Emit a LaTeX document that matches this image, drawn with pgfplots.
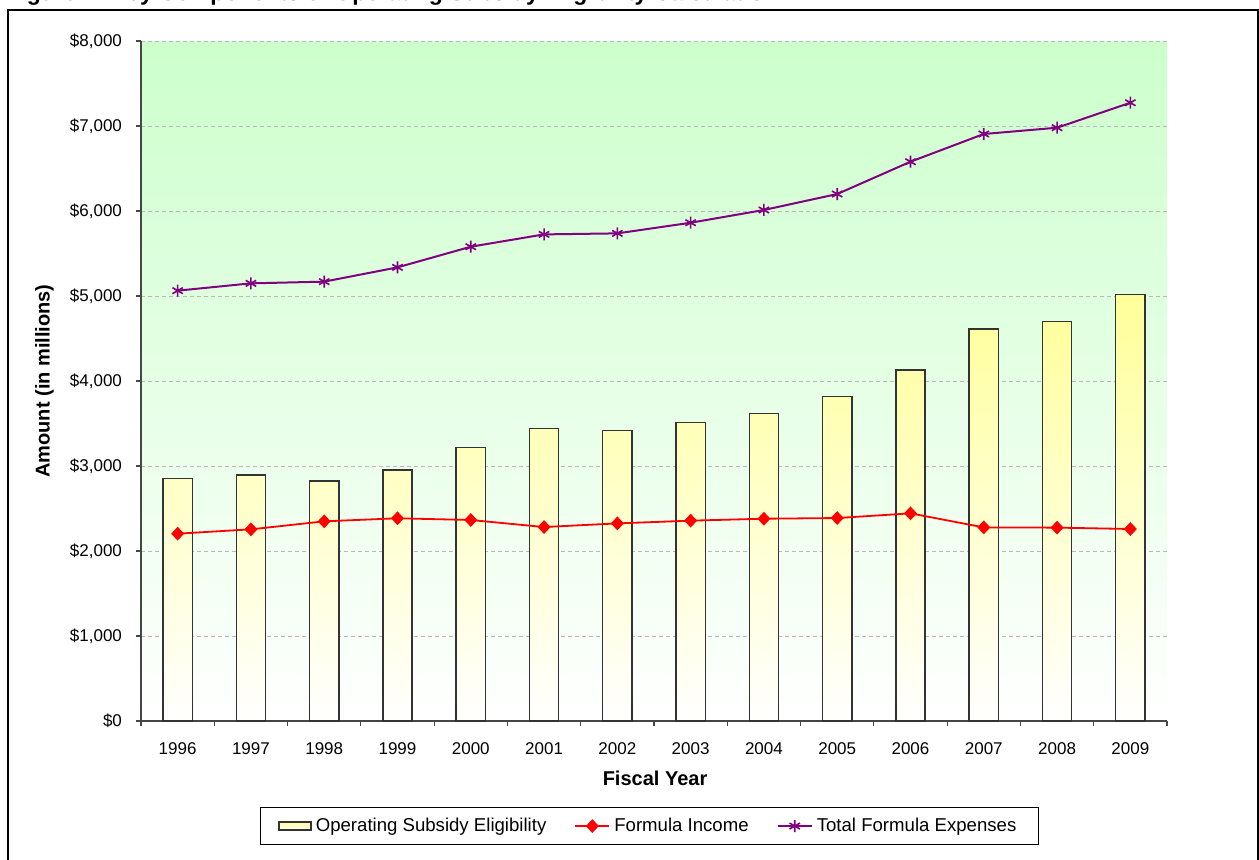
\documentclass[border=0pt]{standalone}
\usepackage{fontspec}
\setmainfont{Liberation Sans}
\usepackage{pgfplots}
\pgfplotsset{compat=1.18}
\definecolor{bggreen}{RGB}{204,255,204}
\definecolor{baryellow}{RGB}{255,255,153}
\definecolor{expurple}{RGB}{128,0,128}
\definecolor{gridgray}{RGB}{185,185,185}
\definecolor{axisgray}{RGB}{70,70,70}
\begin{document}
\begin{tikzpicture}
\useasboundingbox (0,0) rectangle (629.5pt,429.5pt);
\node[anchor=base west, font=\bfseries\fontsize{11.5}{13}\selectfont, inner sep=0pt] at (3pt,429.2pt) {Figure 1. Key Components of Operating Subsidy Eligibility Calculation};
\draw[line width=1pt] (4pt,-5pt) -- (4pt,424.5pt) -- (629pt,424.5pt) -- (629pt,-5pt);
\begin{axis}[
  at={(70.5pt,69pt)}, anchor=south west,
  scale only axis, width=513pt, height=340pt,
  xmin=-0.5, xmax=13.5, ymin=0, ymax=8000,
  axis lines*=left,
  axis line style={axisgray, line width=0.8pt},
  xtick={-0.5,0.5,...,13.5},
  x tick label as interval,
  xticklabels={1996,1997,1998,1999,2000,2001,2002,2003,2004,2005,2006,2007,2008,2009},
  ytick={0,1000,...,8000},
  yticklabels={{\$0},{\$1,000},{\$2,000},{\$3,000},{\$4,000},{\$5,000},{\$6,000},{\$7,000},{\$8,000}},
  tick align=outside,
  major tick length=2.5pt,
  tick style={axisgray, line width=0.6pt},
  tick label style={font=\fontsize{8.5}{10}\selectfont, black},
  xticklabel style={yshift=-5pt},
  yticklabel style={xshift=-3.5pt},
  ymajorgrids,
  grid style={gridgray, dash pattern=on 2pt off 1.5pt, line width=0.5pt},
  axis background/.style={shade, top color=bggreen, bottom color=white},
  xlabel={Fiscal Year},
  ylabel={Amount (in millions)},
  label style={font=\bfseries\fontsize{10}{12}\selectfont},
  xlabel style={at={(axis description cs:0.501,-0.084)}, anchor=center},
  ylabel style={at={(axis description cs:-0.094,0.5)}, anchor=center},
  legend columns=3,
  legend style={at={(axis description cs:0.4955,-0.1545)}, anchor=center,
    draw=black, line width=0.6pt, font=\fontsize{9.3}{11}\selectfont,
    inner xsep=9pt, inner ysep=3pt,
    /tikz/every even column/.append style={column sep=12pt}},
  legend cell align=left,
]
\addplot[ybar, bar width=0.4, draw=black!80, line width=0.7pt,
  top color=baryellow, bottom color=white,
  legend image code/.code={\draw[draw=black!80, line width=0.7pt, fill=baryellow!70] (0pt,-2pt) rectangle (16pt,2pt);}]
  coordinates {(0,2852) (1,2894) (2,2824) (3,2953) (4,3216) (5,3443) (6,3416) (7,3510) (8,3620) (9,3816) (10,4129) (11,4612) (12,4697) (13,5020)};
\addlegendentry{Operating Subsidy Eligibility}
\addplot[red, line width=0.9pt, mark=diamond*, mark size=2.8pt, mark options={xscale=1.25, solid, fill=red, draw=red}]
  coordinates {(0,2204) (1,2255) (2,2349) (3,2385) (4,2365) (5,2282) (6,2325) (7,2357) (8,2380) (9,2388) (10,2443) (11,2278) (12,2275) (13,2259)};
\addlegendentry{Formula Income}
\addplot[expurple, line width=1pt, mark=asterisk, mark size=3pt, mark options={line width=0.8pt, solid}]
  coordinates {(0,5063) (1,5149) (2,5169) (3,5337) (4,5580) (5,5725) (6,5737) (7,5862) (8,6012) (9,6200) (10,6580) (11,6906) (12,6980) (13,7274)};
\addlegendentry{Total Formula Expenses}
\end{axis}
\end{tikzpicture}
\end{document}
